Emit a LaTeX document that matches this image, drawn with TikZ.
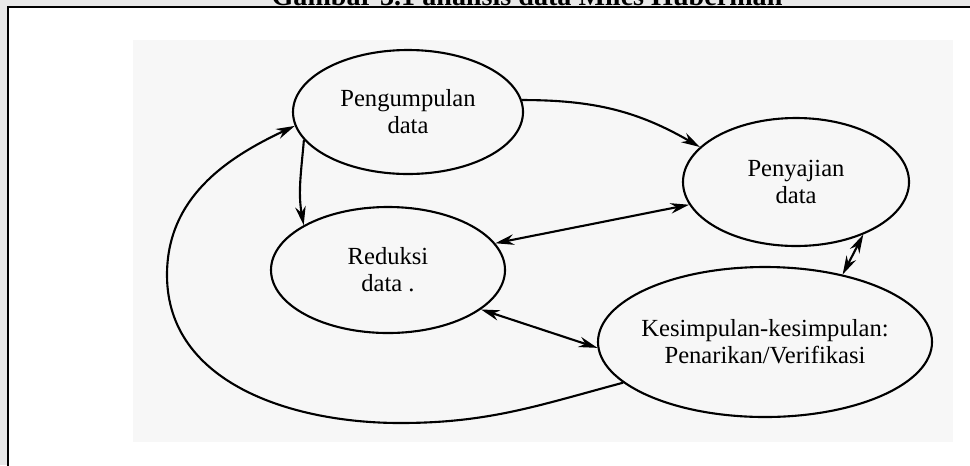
\documentclass[tikz,border=0pt]{standalone}
\usepackage{fontspec}
\setmainfont{Liberation Serif}
\usetikzlibrary{shapes.geometric,arrows.meta}

\tikzstyle{stage} = [ellipse, draw, line width=0.9pt, inner xsep=-0.5cm, inner ysep=0pt, align=center, font=\fontsize{10.5}{11.5}\selectfont]
\tikzstyle{flow} = [line width=0.9pt, -{Stealth[length=8pt,width=4.5pt]}]
\tikzstyle{both} = [line width=0.9pt, {Stealth[length=8pt,width=4.5pt]}-{Stealth[length=8pt,width=4.5pt]}]

\begin{document}
\begin{tikzpicture}[x=0.015cm, y=-0.015cm]
  \useasboundingbox (0,0) rectangle (970,465);
  \clip (0,0) rectangle (970,465);
  \fill[gray!18] (0,0) rectangle (970,465);
  \filldraw[fill=white, line width=1pt] (8,7) rectangle (990,490);
  \fill[gray!6] (133,40) rectangle (953,442);
  \node[font=\bfseries\fontsize{12}{14}\selectfont, anchor=base] (title) at (527,5) {Gambar 3.1 analisis data Miles Huberman};

  \node[stage, minimum width=3.45cm, minimum height=1.86cm] (pengumpulan) at (408,112) {Pengumpulan\\data};
  \node[stage, minimum width=3.51cm, minimum height=1.89cm] (reduksi) at (388,270) {Reduksi\\data .};
  \node[stage, minimum width=3.39cm, minimum height=1.92cm] (penyajian) at (796,182) {Penyajian\\data};
  \node[stage, minimum width=5.01cm, minimum height=2.25cm] (kesimpulan) at (765,342) {Kesimpulan-kesimpulan:\\Penarikan/Verifikasi};

  \draw[flow] (pengumpulan.6) to[out=0,in=150] (penyajian.160);
  \draw[flow] (pengumpulan.195) to[out=265,in=100] (reduksi.152);
  \draw[both] (reduksi.14) -- (penyajian.192);
  \draw[both] (reduksi.337) -- (kesimpulan.182);
  \draw[both] (penyajian.322) -- (kesimpulan.41);

  \coordinate (loopbottom) at (400,423);
  \coordinate (loopleft) at (167,275);
  \draw[flow] (kesimpulan.196) to[out=195,in=0] (loopbottom) to[out=180,in=270] (loopleft) to[out=90,in=205] (pengumpulan.187);
\end{tikzpicture}
\end{document}
